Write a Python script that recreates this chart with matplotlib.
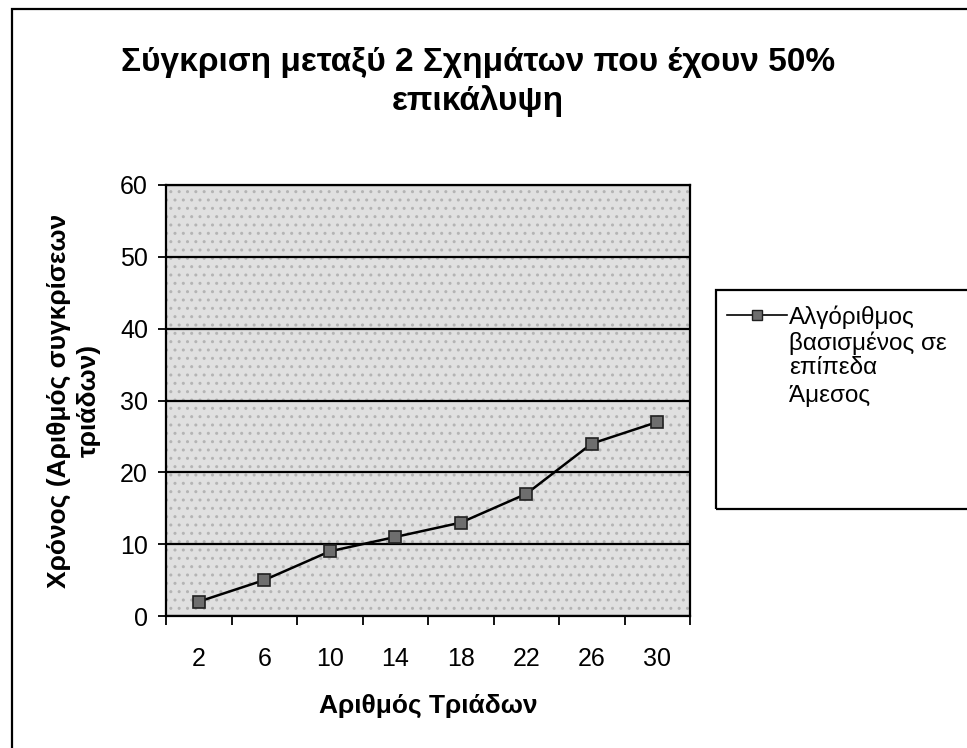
import numpy as np
import matplotlib
matplotlib.use("Agg")
import matplotlib.pyplot as plt
from matplotlib.patches import Rectangle
from matplotlib.lines import Line2D
from matplotlib.legend_handler import HandlerLine2D

plt.rcParams['font.family'] = ['Liberation Sans', 'DejaVu Sans']

# data
triads = ['2', '6', '10', '14', '18', '22', '26', '30']
level_algo = [2, 5, 9, 11, 13, 17, 24, 27]
yticks = [0, 10, 20, 30, 40, 50, 60]

title = "Σύγκριση μεταξύ 2 Σχημάτων που έχουν 50%\nεπικάλυψη"
xlabel = "Αριθμός Τριάδων"
ylabel = "Χρόνος (Αριθμός συγκρίσεων\nτριάδων)"
series_names = ["Αλγόριθμος\nβασισμένος σε\nεπίπεδα", "Άμεσος"]


class TopLineHandler(HandlerLine2D):
    # put the legend line next to the first text line instead of the middle
    def __init__(self, shift, **kw):
        super().__init__(**kw)
        self.shift = shift

    def create_artists(self, legend, orig_handle, xdescent, ydescent,
                       width, height, fontsize, trans):
        arts = super().create_artists(legend, orig_handle, xdescent, ydescent,
                                      width, height, fontsize, trans)
        for a in arts:
            a.set_ydata(np.asarray(a.get_ydata()) + self.shift * fontsize)
        return arts


W, H = 967, 748
fig = plt.figure(figsize=(W / 100, H / 100), dpi=100)
ax = fig.add_axes([166 / W, 1 - 616 / H, (690 - 166) / W, (616 - 185) / H])

# speckled grey plot area
ax.set_facecolor('#e0e0e0')
ax.add_patch(Rectangle((0, 0), 1, 1, transform=ax.transAxes, facecolor='none',
                       edgecolor='#b4b4b4', hatch='..', lw=0, zorder=0.5))

x = np.arange(len(triads))
line, = ax.plot(x, level_algo, color='black', lw=1.8, marker='s', ms=9,
                markerfacecolor='#6e6e6e', markeredgecolor='#202020', mew=1.2,
                zorder=5)

ax.set_xlim(-0.5, len(triads) - 0.5)
ax.set_ylim(0, 60)
ax.set_yticks(yticks)
ax.set_yticklabels([str(v) for v in yticks], fontsize=18)

# category axis: ticks at boundaries, labels centred
ax.set_xticks(np.arange(-0.5, len(triads), 1.0))
ax.set_xticklabels([])
ax.set_xticks(x, minor=True)
ax.set_xticklabels(triads, minor=True, fontsize=18)
ax.tick_params(axis='x', which='minor', length=0, pad=22)
ax.tick_params(axis='x', which='major', length=6.5, width=1.3, direction='out')
ax.tick_params(axis='y', length=6, width=1.3, direction='out', pad=7)

ax.yaxis.grid(True, color='black', lw=1.6)
ax.set_axisbelow(False)
for s in ax.spines.values():
    s.set_linewidth(1.6)

ax.set_xlabel(xlabel, fontsize=19, fontweight='bold', labelpad=17)
ax.set_ylabel(ylabel, fontsize=19, fontweight='bold', labelpad=14,
              linespacing=1.3)

fig.text(478 / W, 1 - 82 / H, title, ha='center', va='center',
         fontsize=24, fontweight='bold', linespacing=1.3)

# outer chart border
fig.patches.append(Rectangle((12 / W, -0.02), 1.1, 1 - 9 / H + 0.02,
                             transform=fig.transFigure, fill=False,
                             edgecolor='black', lw=1.6))

# legend box
fig.patches.append(Rectangle((716 / W, 1 - 509 / H), 0.5, (509 - 290) / H,
                             transform=fig.transFigure, fill=False,
                             edgecolor='black', lw=1.6))
empty = Line2D([], [], color='none')
leg_line = Line2D([], [], color='black', lw=1.2, marker='s', ms=7,
                  markerfacecolor='#6e6e6e', markeredgecolor='#202020', mew=1)
leg = fig.legend([leg_line, empty], series_names, loc='upper left',
                 bbox_to_anchor=(727 / W, 1 - 305 / H), frameon=False,
                 fontsize=17.5, handlelength=2.45, handletextpad=0.1,
                 labelspacing=0.25, borderpad=0, borderaxespad=0,
                 handler_map={leg_line: TopLineHandler(shift=1.1)})
for t in leg.get_texts():
    t.set_linespacing(1.15)

fig.savefig('out.png', dpi=100)
